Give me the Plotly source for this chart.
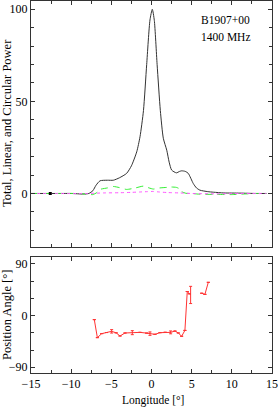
import plotly.graph_objects as go

# Total intensity (black)
tot_lon = [-15, -12, -10, -8.5, -7.8, -7.3, -6.9, -6.4, -5.5, -4.75, -4.0, -3.1, -2.5, -1.84, -1.43, -1.0, -0.6, -0.19, 0.1, 0.35, 0.7, 1.1, 1.47, 1.9, 2.2, 2.51, 3.1, 3.5, 3.76, 4.2, 4.58, 5.2, 5.6, 6.03, 7.0, 7.7, 9, 11, 13, 14.3]
tot_val = [0, 0, 0, -0.3, 0, 1.5, 4.5, 6.9, 7.2, 7.2, 8.5, 10.9, 15, 22.6, 30.8, 45, 70, 94.2, 100, 94, 70, 45, 30, 23.5, 17, 12.7, 11.2, 12.0, 12.3, 12.0, 10.9, 5.4, 3.0, 1.8, 1.0, 0.7, 0.3, 0.2, 0, 0]

# Linear polarization (green dashed)
lin_lon = [-15, -11, -9, -8, -7.3, -6.8, -6.4, -5.5, -4.75, -4.0, -3.1, -2.0, -1.0, -0.3, 0.24, 1.0, 1.9, 2.5, 3.1, 3.5, 3.76, 4.3, 5.0, 6.0, 8.0, 10.0, 11.5, 13, 14.3]
lin_val = [0, 0, 0, -0.4, -0.6, 0.5, 2.2, 3.0, 3.8, 3.2, 2.2, 3.0, 4.0, 3.0, 2.4, 3.0, 3.3, 3.5, 3.3, 2.5, 1.0, 0.1, 0, -0.4, -0.5, -0.6, -0.3, 0, 0]

# Circular polarization (magenta dotted)
circ_lon = [-15, -8, -6, -4, -2.5, -1.5, -0.5, 0.2, 1.0, 2.0, 3.5, 5, 8, 11, 14.3]
circ_val = [0, 0, 0.3, 0.4, 0.6, 0.8, 1.0, 1.1, 0.8, 0.5, 0.3, 0, -0.2, 0, 0]

# Noise marker
noise_lon = [-12.6]
noise_val = [0]

# Position angle (red)
pa_lon = [-7.12, -6.74, -6.2, -5.6, -4.96, -4.4, -3.92, -3.3, -2.39, -1.43, -0.6, -0.19, 0.43, 1.06, 1.7, 2.38, 2.92, 3.34, 3.75, 4.16, 4.45, 4.7, 4.87, None, 6.24, 6.65, 7.07]
pa_val = [-7, -38.4, -31.4, -29.5, -27.4, -30.0, -35.5, -30.3, -29.7, -29.2, -30.5, -31.4, -32.6, -29.7, -29.0, -29.2, -26.9, -30.3, -36.0, -25.8, 42, 38, 36, None, 39, 37, 58]
pa_err = [0, 0, 0, 0, 3, 0, 0, 0, 3.5, 0, 0, 3, 0, 0, 0, 2.5, 0, 0, 0, 0, 0, 0, 15, 0, 0, 0, 0]

x_ticks = [-15, -10, -5, 0, 5, 10, 15]
top_y_ticks = [0, 50, 100]
pa_y_ticks = [-90, 0, 90]

FONT = "Liberation Serif"

fig = go.Figure()
fig.add_trace(go.Scatter(x=tot_lon, y=tot_val, mode="lines", line=dict(color="#333333", width=1, shape="spline", smoothing=0.6), xaxis="x", yaxis="y"))
fig.add_trace(go.Scatter(x=lin_lon, y=lin_val, mode="lines", line=dict(color="#33ee33", width=1, dash="7px,5px", shape="spline", smoothing=0.6), xaxis="x", yaxis="y"))
fig.add_trace(go.Scatter(x=circ_lon, y=circ_val, mode="lines", line=dict(color="#ff55ff", width=1, dash="dot", shape="spline", smoothing=0.6), xaxis="x", yaxis="y"))
fig.add_trace(go.Scatter(x=noise_lon, y=noise_val, mode="markers", marker=dict(color="black", size=3, symbol="square"), xaxis="x", yaxis="y"))
fig.add_trace(go.Scatter(x=pa_lon, y=pa_val, mode="lines", line=dict(color="#ff3333", width=1), connectgaps=False,
                         error_y=dict(type="data", array=pa_err, color="#ff3333", thickness=1, width=1.5),
                         xaxis="x2", yaxis="y2"))

axis_common = dict(showgrid=False, zeroline=False, showline=True, linecolor="#333333", linewidth=1, mirror="ticks",
                   ticks="inside", ticklen=4, tickcolor="#333333", ticklabeloverflow="allow",
                   tickfont=dict(family=FONT, size=12, color="black"))

W, H = 278, 407
ML, MR, MT, MB = 31, 6, 1, 34
plot_w = W - ML - MR
plot_h = H - MT - MB


def px_x(px):
    return (px - ML) / plot_w


def px_y(py_from_top):
    return (H - MB - py_from_top) / plot_h


fig.update_layout(
    width=W, height=H,
    margin=dict(l=ML, r=MR, t=MT, b=MB),
    paper_bgcolor="white", plot_bgcolor="white",
    showlegend=False,
    xaxis=dict(range=[-15, 15], domain=[0, 1], anchor="y", showticklabels=False, tickvals=x_ticks,
               minor=dict(dtick=2.5, ticks="inside", ticklen=3, tickcolor="#333333"), **axis_common),
    yaxis=dict(range=[-29.2, 104.5], domain=[0.338, 1], anchor="x", tickvals=top_y_ticks,
               minor=dict(dtick=10, ticks="inside", ticklen=3, tickcolor="#333333"), **axis_common),
    xaxis2=dict(range=[-15, 15], domain=[0, 1], anchor="y2", tickvals=x_ticks,
                minor=dict(dtick=2.5, ticks="inside", ticklen=3, tickcolor="#333333"), **axis_common),
    yaxis2=dict(range=[-100, 101.6], domain=[0, 0.311], anchor="x2", tickvals=pa_y_ticks,
                minor=dict(dtick=30, ticks="inside", ticklen=3, tickcolor="#333333"), **axis_common),
    annotations=[
        dict(text="B1907+00", x=5.9, y=94, xref="x", yref="y", xanchor="left", yanchor="middle", showarrow=False,
             font=dict(family=FONT, size=11.5, color="black")),
        dict(text="1400 MHz", x=5.9, y=85, xref="x", yref="y", xanchor="left", yanchor="middle", showarrow=False,
             font=dict(family=FONT, size=11.5, color="black")),
        dict(text="Total, Linear, and Circular Power", x=px_x(7), y=px_y(123), xref="paper", yref="paper",
             xanchor="center", yanchor="middle",
             showarrow=False, textangle=-90, font=dict(family=FONT, size=12.5, color="black")),
        dict(text="Position Angle [°]", x=px_x(7), y=px_y(315), xref="paper", yref="paper",
             xanchor="center", yanchor="middle",
             showarrow=False, textangle=-90, font=dict(family=FONT, size=12.5, color="black")),
        dict(text="Longitude [°]", x=px_x(153), y=px_y(400), xref="paper", yref="paper",
             xanchor="center", yanchor="middle",
             showarrow=False, font=dict(family=FONT, size=11.5, color="black")),
    ],
)

fig.write_html("out.html", config={"displayModeBar": False},
               post_script="document.body.style.margin='0';document.body.style.overflow='hidden';")
